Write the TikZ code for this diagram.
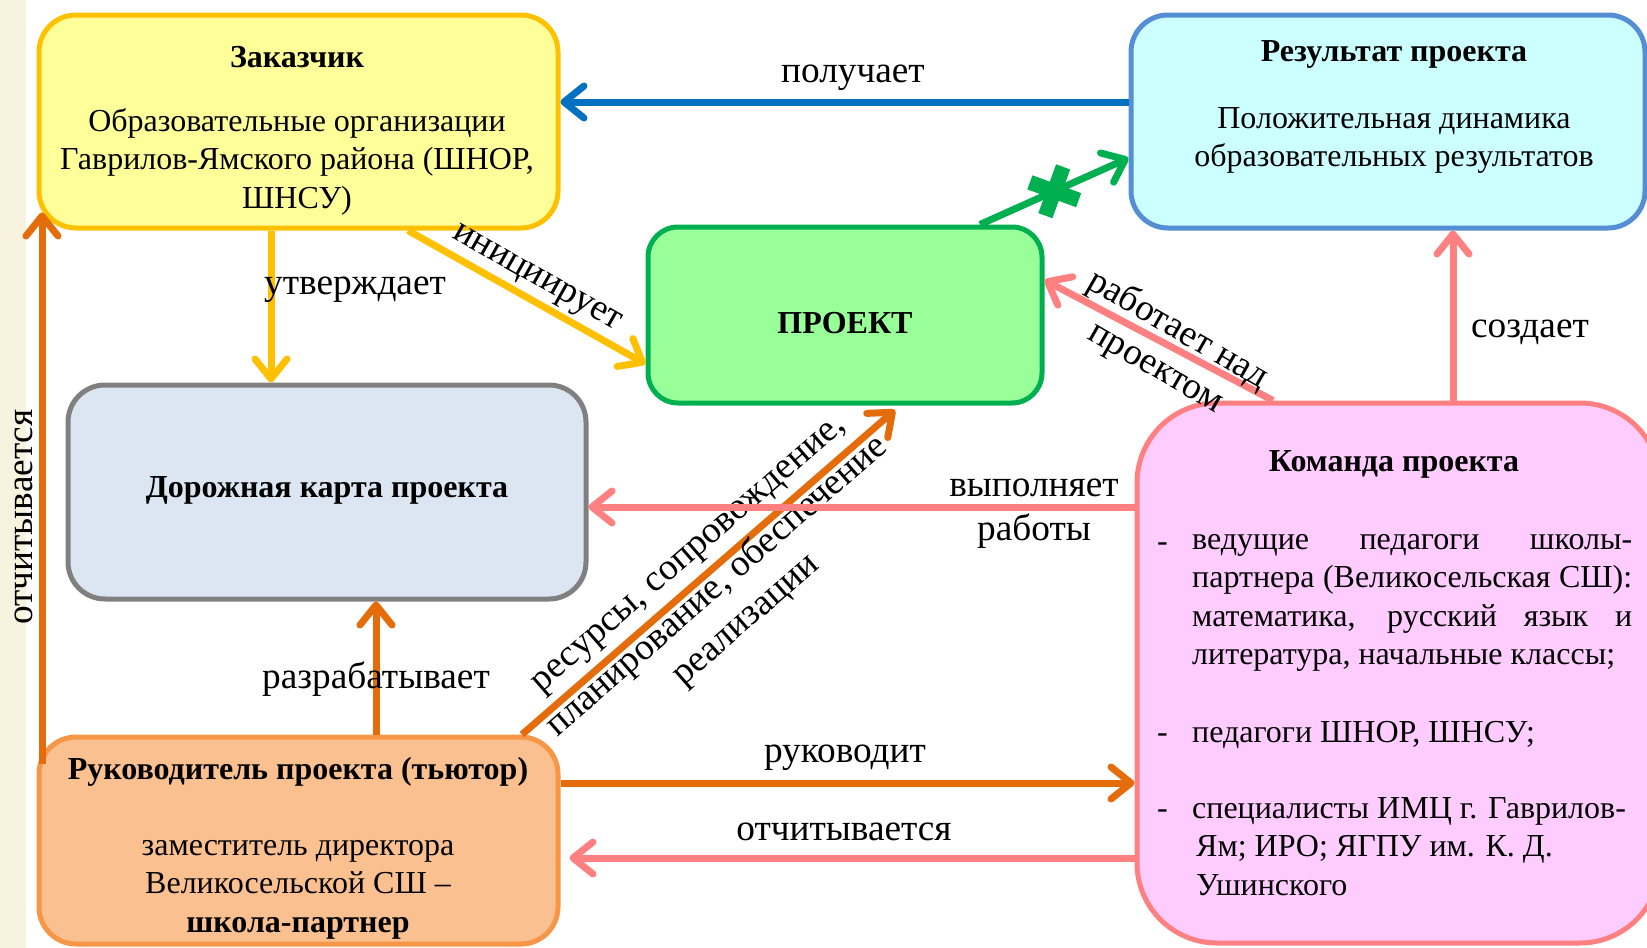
\documentclass[tikz,border=0pt]{standalone}
\usepackage{fontspec}
\setmainfont{Liberation Serif}
\usetikzlibrary{arrows.meta}

\definecolor{zakfill}{HTML}{FFFF99}
\definecolor{zakline}{HTML}{FFC000}
\definecolor{resfill}{HTML}{CCFFFF}
\definecolor{resline}{HTML}{558ED5}
\definecolor{prjfill}{HTML}{99FF99}
\definecolor{prjline}{HTML}{00B050}
\definecolor{mapfill}{HTML}{DCE6F2}
\definecolor{mapline}{HTML}{808080}
\definecolor{rukfill}{HTML}{FAC090}
\definecolor{rukline}{HTML}{F79646}
\definecolor{komfill}{HTML}{FFCCFF}
\definecolor{komline}{HTML}{FF8080}
\definecolor{arrblue}{HTML}{0070C0}
\definecolor{arrorange}{HTML}{E46C0A}
\definecolor{strip}{HTML}{F8F3DE}

\begin{document}
\begin{tikzpicture}[x=1pt, y=-1pt,
    box/.style={draw, line width=5pt, rounded corners=#1, inner sep=0pt},
    box/.default=37pt,
    arr/.style={line width=7pt, -{Straight Barb[length=20pt,width=32pt,round]}},
    txt/.style={font=\fontsize{32}{38.5}\selectfont, inner sep=0pt, anchor=base},
    ttl/.style={txt, font=\fontsize{32}{38.5}\selectfont\bfseries},
    lbl/.style={font=\fontsize{37.3}{44}\selectfont, inner sep=0pt, anchor=base}]
    \useasboundingbox (0,0) rectangle (1647,948);
    \clip (0,0) rectangle (1647,948);
    \fill[strip] (0,0) rectangle (26,948);
    % boxes
    \node[box, fill=zakfill, draw=zakline, minimum width=519pt, minimum height=213pt] (zak) at (298.5,121.5) {};
    \node[box, fill=resfill, draw=resline, minimum width=514pt, minimum height=213pt] (res) at (1388,121.5) {};
    \node[box=30pt, fill=prjfill, draw=prjline, minimum width=394pt, minimum height=176pt] (prj) at (845,315) {};
    \node[box, fill=mapfill, draw=mapline, minimum width=518pt, minimum height=214pt] (map) at (327,492) {};
    \node[box, fill=rukfill, draw=rukline, minimum width=519pt, minimum height=207pt] (ruk) at (298.5,840.5) {};
    \node[box=80pt, fill=komfill, draw=komline, minimum width=523pt, minimum height=540pt] (kom) at (1398.5,673) {};
    % box texts (multi-line nodes sit on their last baseline)
    \node[ttl] (zakT) at (297,67) {Заказчик};
    \node[txt, align=center] (zakB) at (297,208) {Образовательные организации\\Гаврилов-Ямского района (ШНОР,\\ШНСУ)};
    \node[ttl] (resT) at (1394,61) {Результат проекта};
    \node[txt, align=center] (resB) at (1394,166.5) {Положительная динамика\\образовательных результатов};
    \node[ttl] (prjT) at (845,333) {ПРОЕКТ};
    \node[ttl] (mapT) at (327,497) {Дорожная карта проекта};
    \node[ttl] (rukT) at (298,779) {Руководитель проекта (тьютор)};
    \node[txt, align=center] (rukB) at (298,932) {заместитель директора\\Великосельской СШ --\\\textbf{школа-партнер}};
    \node[ttl] (komT) at (1394,471) {Команда проекта};
    \node[txt, anchor=base west] (komD1) at (1157,551) {-};
    \node[txt, anchor=base west] (komD2) at (1157,742) {-};
    \node[txt, anchor=base west] (komD3) at (1157,818) {-};
    \node[txt, anchor=base west, align=left] (kom1) at (1192,664.5) {\makebox[440pt][s]{ведущие педагоги школы-}\\\makebox[440pt][s]{партнера (Великосельская СШ):}\\\makebox[440pt][s]{математика, русский язык и}\\литература, начальные классы;};
    \node[txt, anchor=base west] (kom2) at (1192,742) {педагоги ШНОР, ШНСУ;};
    \node[txt, anchor=base west, align=left] (kom3) at (1192,895) {специалисты ИМЦ г. Гаврилов-\\\hspace{4pt}Ям; ИРО; ЯГПУ им. К. Д.\\\hspace{4pt}Ушинского};
    % connectors
    \draw[arr, draw=arrorange] ([xshift=223.5pt]ruk.north) -- ([shift={(50pt,-4.5pt)}]prj.south);
    \node[lbl, anchor=center, align=center, rotate=41] (lRes) at (720,590) {ресурсы, сопровождение,\\планирование, обеспечение\\реализации};
    \draw[arr, draw=arrblue] ([yshift=19.5pt]res.west) -- ([yshift=19.5pt]zak.east);
    \draw[arr, draw=prjline] ([xshift=135pt]prj.north) -- coordinate[pos=0.5] (mark) ([yshift=-36.5pt]res.west);
    \draw[line width=15pt, prjline] (mark) ++(-24.4,-8.9) -- ++(48.8,17.8);
    \draw[line width=15pt, prjline] (mark) ++(8.9,-24.4) -- ++(-17.8,48.8);
    \draw[arr, draw=zakline] ([xshift=-27.5pt]zak.south) -- ([xshift=-56pt]map.north);
    \draw[arr, draw=zakline] ([xshift=109.5pt]zak.south) -- ([yshift=-49pt]prj.west);
    \draw[arr, draw=arrorange] ([shift={(5.5pt,-29pt)}]ruk.north west) -- ([shift={(5.5pt,18pt)}]zak.south west);
    \draw[arr, draw=arrorange] ([xshift=77.5pt]ruk.north) -- ([xshift=49pt]map.south);
    \draw[arr, draw=komline] ([yshift=166pt]kom.west) -- ([yshift=-15pt]map.east);
    \draw[arr, draw=komline] ([xshift=-125.5pt]kom.north) -- ([yshift=35pt]prj.east);
    \draw[arr, draw=komline] ([xshift=54.5pt]kom.north) -- ([xshift=65pt]res.south);
    \draw[arr, draw=arrorange] ([yshift=57.5pt]ruk.east) -- ([yshift=-110pt]kom.west);
    \draw[arr, draw=komline, shorten >=9pt] ([yshift=-185pt]kom.west) -- ([yshift=-17.5pt]ruk.east);
    % labels
    \node[lbl] (lPol) at (853,82) {получает};
    \node[lbl] (lUtv) at (355,294) {утверждает};
    \node[lbl, anchor=center, rotate=-29.6] (lIni) at (536,280) {инициирует};
    \node[lbl, anchor=center, rotate=90] (lOtchL) at (24,517) {отчитывается};
    \node[lbl] (lRaz) at (376,688) {разрабатывает};
    \node[lbl, align=center] (lVyp) at (1034,540) {выполняет\\работы};
    \node[lbl, anchor=center, align=center, rotate=-30] (lRab) at (1167,349) {работает над\\проектом};
    \node[lbl] (lSoz) at (1530,337) {создает};
    \node[lbl] (lRuk) at (845,762) {руководит};
    \node[lbl] (lOtch) at (844,840) {отчитывается};
\end{tikzpicture}
\end{document}
